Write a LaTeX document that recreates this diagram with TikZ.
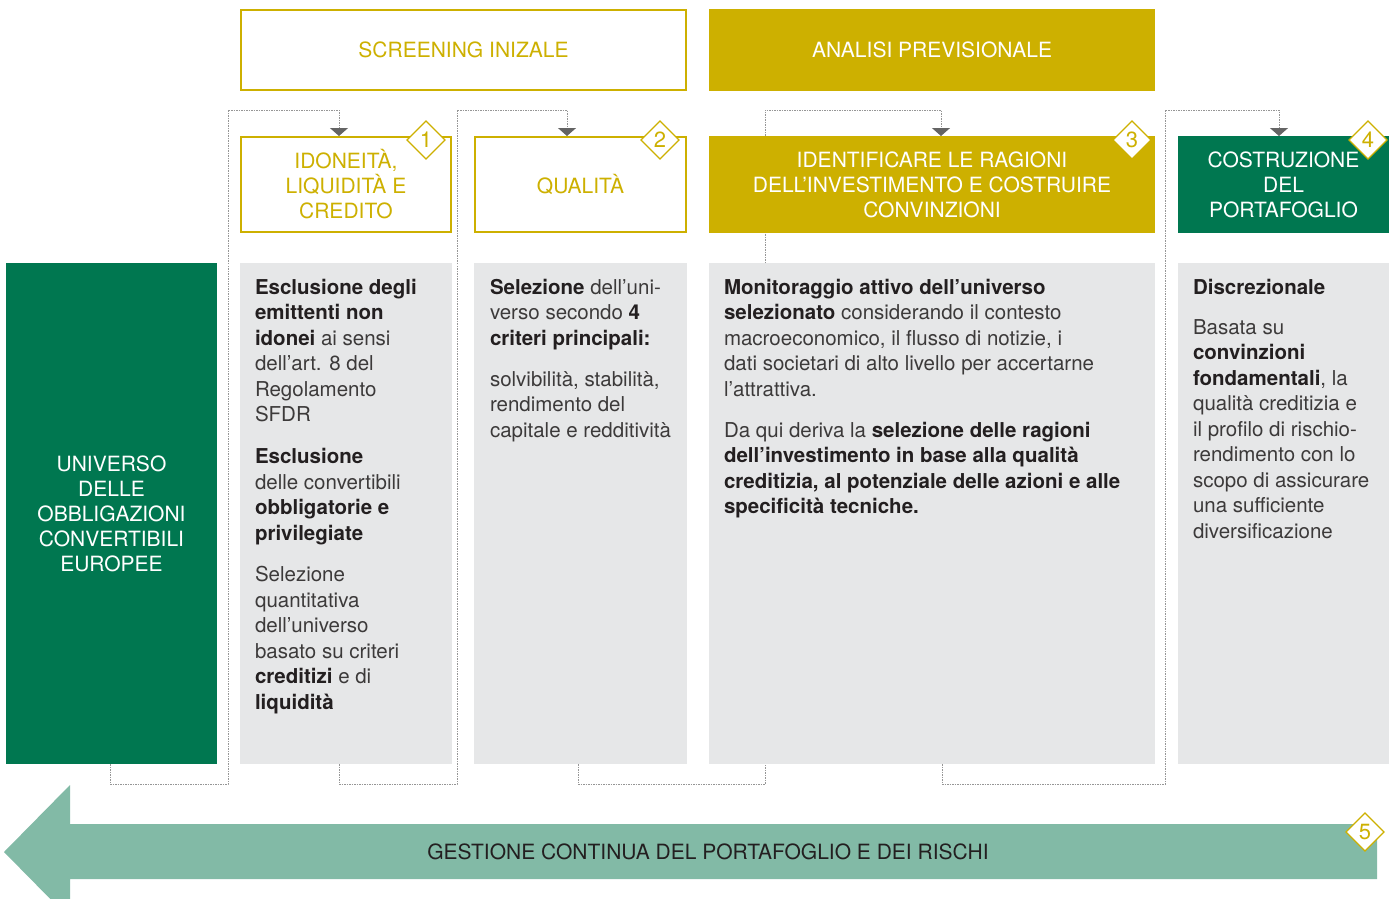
\documentclass[tikz,border=0pt]{standalone}
\usepackage{fontspec}
\setmainfont{TeX Gyre Heros}
\usetikzlibrary{arrows.meta,shapes.geometric,calc}
\definecolor{gold}{RGB}{205,176,0}
\definecolor{dgreen}{RGB}{0,119,80}
\definecolor{lgreen}{RGB}{130,186,166}
\definecolor{colgray}{RGB}{230,231,232}
\definecolor{txt}{RGB}{35,31,32}
\definecolor{txtl}{RGB}{60,58,58}
\definecolor{dotgray}{RGB}{150,150,150}
\definecolor{tipgray}{RGB}{100,100,100}
\newcommand{\firstline}{\rule{0pt}{17pt}}
\begin{document}
\begin{tikzpicture}[x=1pt,y=-1pt,
  every node/.style={inner sep=0pt,outer sep=0pt},
  hfont/.style={font=\fontsize{21}{25}\selectfont},
  outlinebox/.style={hfont,draw=gold,line width=2.2pt,fill=white,text=gold,align=center},
  goldbox/.style={hfont,fill=gold,text=white,align=center},
  greenbox/.style={hfont,fill=dgreen,text=white,align=center},
  colbox/.style={fill=colgray},
  badge/.style={diamond,draw=gold,fill=white,line width=1.2pt,minimum width=38pt,minimum height=38pt,text=gold,font=\fontsize{22}{22}\selectfont},
  body/.style={anchor=north west,align=left,text=txtl,font=\fontsize{20.5}{25.5}\selectfont},
  conn/.style={draw=dotgray,line width=1pt,dash pattern=on 1.5pt off 1pt,-{Triangle[width=18pt,length=8pt,fill=tipgray,color=tipgray]}},
]
\useasboundingbox (0,0) rectangle (1395,899);

% connector corners
\coordinate (r1) at (228,110);
\coordinate (r2) at (457,110);
\coordinate (r3) at (765,110);
\coordinate (r4) at (1165,110);

% dotted connectors (behind boxes)
\draw[conn] (110,764) -- (110,784) -| (r1) -| (339,136);
\draw[conn] (339,764) -- (339,784) -| (r2) -| (567,136);
\draw[conn] (578,764) -- (578,784) -| (r3) -| (941,136);
\draw[conn] (942,764) -- (942,784) -| (r4) -| (1279,136);

% header boxes
\node[outlinebox,minimum width=445pt,minimum height=80pt] (scr) at (463.5,50) {SCREENING INIZALE};
\node[goldbox,minimum width=446pt,minimum height=82pt] (ana) at (932,50) {ANALISI PREVISIONALE};

\node[outlinebox,minimum width=210pt,minimum height=95pt] (b1) at (346,184.5) {IDONEITÀ,\\LIQUIDITÀ E\\CREDITO};
\node[outlinebox,minimum width=211pt,minimum height=95pt] (b2) at (580.5,184.5) {QUALITÀ};
\node[goldbox,minimum width=446pt,minimum height=97pt] (b3) at (932,184.5) {IDENTIFICARE LE RAGIONI\\DELL’INVESTIMENTO E COSTRUIRE\\CONVINZIONI};
\node[greenbox,minimum width=211pt,minimum height=97pt] (b4) at (1283.5,184.5) {COSTRUZIONE\\DEL\\PORTAFOGLIO};

% columns
\node[greenbox,minimum width=211pt,minimum height=501pt] (uni) at (111.5,513.5) {UNIVERSO\\DELLE\\OBBLIGAZIONI\\CONVERTIBILI\\EUROPEE};
\node[colbox,minimum width=212pt,minimum height=501pt] (c1) at (346,513.5) {};
\node[colbox,minimum width=213pt,minimum height=501pt] (c2) at (580.5,513.5) {};
\node[colbox,minimum width=446pt,minimum height=501pt] (c3) at (932,513.5) {};
\node[colbox,minimum width=211pt,minimum height=501pt] (c4) at (1283.5,513.5) {};

% column texts
\node[body] (t1) at (255,277) {%
\firstline\textcolor{txt}{\bfseries Esclusione degli}\\
\textcolor{txt}{\bfseries emittenti non}\\
\textcolor{txt}{\bfseries idonei} ai sensi\\
dell’art. 8 del\\
Regolamento\\
SFDR\\[16.5pt]
\textcolor{txt}{\bfseries Esclusione}\\
delle convertibili\\
\textcolor{txt}{\bfseries obbligatorie e}\\
\textcolor{txt}{\bfseries privilegiate}\\[16pt]
Selezione\\
quantitativa\\
dell’universo\\
basato su criteri\\
\textcolor{txt}{\bfseries creditizi} e di\\
\textcolor{txt}{\bfseries liquidità}};

\node[body] (t2) at (490,277) {%
\firstline\textcolor{txt}{\bfseries Selezione} dell’uni-\\
verso secondo \textcolor{txt}{\bfseries 4}\\
\textcolor{txt}{\bfseries criteri principali:}\\[15.5pt]
solvibilità, stabilità,\\
rendimento del\\
capitale e redditività};

\node[body] (t3) at (724,277) {%
\firstline\textcolor{txt}{\bfseries Monitoraggio attivo dell’universo}\\
\textcolor{txt}{\bfseries selezionato} considerando il contesto\\
macroeconomico, il flusso di notizie, i\\
dati societari di alto livello per accertarne\\
l’attrattiva.\\[15.5pt]
Da qui deriva la \textcolor{txt}{\bfseries selezione delle ragioni}\\
\textcolor{txt}{\bfseries dell’investimento in base alla qualità}\\
\textcolor{txt}{\bfseries creditizia, al potenziale delle azioni e alle}\\
\textcolor{txt}{\bfseries specificità tecniche.}};

\node[body] (t4) at (1193,277) {%
\firstline\textcolor{txt}{\bfseries Discrezionale}\\[14.5pt]
Basata su\\
\textcolor{txt}{\bfseries convinzioni}\\
\textcolor{txt}{\bfseries fondamentali}, la\\
qualità creditizia e\\
il profilo di rischio-\\
rendimento con lo\\
scopo di assicurare\\
una sufficiente\\
diversificazione};

% bottom arrow
\fill[lgreen] (4,852) -- (70,785) -- (70,824) -- (1377,824) -- (1377,879) -- (70,879) -- (70,919) -- cycle;
\node[hfont,text=txt] (gest) at (708,852) {GESTIONE CONTINUA DEL PORTAFOGLIO E DEI RISCHI};

% badges
\node[badge] (n1) at (426,140) {1};
\node[badge] (n2) at (660,140) {2};
\node[badge] (n3) at (1132,140) {3};
\node[badge] (n4) at (1368,140) {4};
\node[badge] (n5) at (1365,832) {5};
\end{tikzpicture}
\end{document}
